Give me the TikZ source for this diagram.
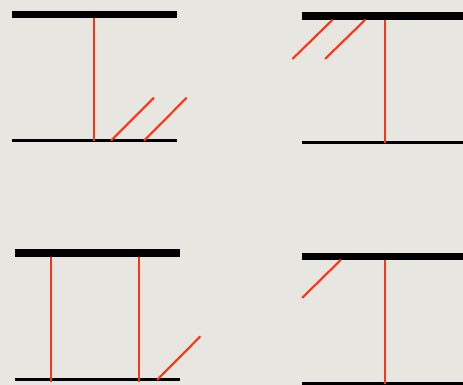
\documentclass[tikz,border=0pt]{standalone}
\usepackage{xcolor}
\usepackage{tikz}
\definecolor{zemin}{HTML}{E7E6E0}
\definecolor{ayna}{HTML}{000000}
\definecolor{isin}{HTML}{FF3314}

\begin{document}
\begin{tikzpicture}[x=0.02cm,y=-0.02cm]
\useasboundingbox (0,0) rectangle (463,385);
\fill[zemin] (0,0) rectangle (463,385);
% ust sol
\draw[ayna,line width=4.3pt] (12,14.5)--(177,14.5);
\draw[ayna,line width=1.5pt] (12,140.7)--(177,140.7);
\draw[isin,line width=1.2pt] (94.3,18)--(94.3,140.7);
\draw[isin,line width=1.2pt] (111,140.7)--(154,97.7);
\draw[isin,line width=1.2pt] (144,140.7)--(186.7,97.7);
% ust sag
\draw[ayna,line width=4.3pt] (302,16.2)--(463,16.2);
\draw[ayna,line width=1.5pt] (302,142.7)--(463,142.7);
\draw[isin,line width=1.2pt] (385,20)--(385,142.7);
\draw[isin,line width=1.2pt,line cap=round] (292.7,58.7)--(332.3,20);
\draw[isin,line width=1.2pt,line cap=round] (325.3,58.7)--(365,20);
% alt sol
\draw[ayna,line width=4.3pt] (14.7,253)--(180,253);
\draw[ayna,line width=1.5pt] (14.7,379.7)--(180,379.7);
\draw[isin,line width=1.2pt] (51.3,256.7)--(51.3,382);
\draw[isin,line width=1.2pt] (138.7,256.7)--(138.7,382);
\draw[isin,line width=1.2pt,line cap=round] (157.3,379.7)--(200,336.7);
% alt sag
\draw[ayna,line width=4.3pt] (302,256.5)--(463,256.5);
\draw[ayna,line width=1.5pt] (302,383.5)--(463,383.5);
\draw[isin,line width=1.2pt] (385,260)--(385,383.5);
\draw[isin,line width=1.2pt,line cap=round] (302.3,297.7)--(340.7,260);
\end{tikzpicture}
\end{document}
